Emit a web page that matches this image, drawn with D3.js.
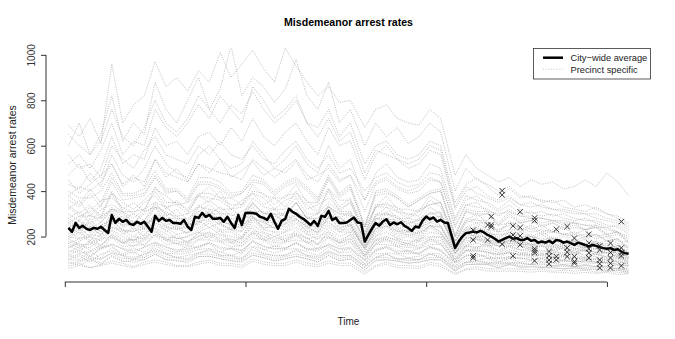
<!DOCTYPE html>
<html><head><meta charset="utf-8">
<script src="https://cdn.jsdelivr.net/npm/d3@7"></script>
<style>body{margin:0;background:#fff} svg{display:block} text{font-family:"Liberation Sans",Arial,Helvetica,sans-serif}</style>
</head><body><svg id="c" width="675" height="339"></svg>
<script>
// ---- data ----
const cityAverage = [238,221,260,238,247,234,229,238,234,243,229,216,295,260,278,265,273,256,251,265,256,265,243,221,291,269,
282,269,273,260,260,256,273,243,229,287,282,304,287,295,278,278,282,265,287,260,238,295,251,304,
305,304,300,287,282,273,300,265,234,269,278,322,309,300,287,278,265,251,269,247,291,287,313,273,282,260,260,
262,273,284,262,259,178,
207,235,259,248,266,276,251,262,254,263,247,238,225,244,240,270,288,276,284,266,273,262,
260,205,150,178,200,215,218,222,218,225,218,207,200,190,178,185,193,200,190,193,185,185,193,181,185,173,
178,173,181,171,185,182,173,178,171,163,173,168,163,156,163,159,153,149,146,149,141,144,134,127,124];

const precinctTimes = [1,4,7,10,13,16,19,22,25,28,31,34,37,40,43,46,49,52,55,58,61,64,67,70,73,76,79,
83,86,89,92,95,98,101,104,108,111,114,117,120,123,126,129,132,135,138,141,144,147,150,153,156];

const precinctHigh = [
[690,640,720,610,960,700,780,820,970,860,900,840,930,880,1010,900,960,1020,940,880,1030,950,880,820,860,790,800,680,760,780,720,700,690,760,720,470,560,500,470,440,460,420,450,430,440,410,420,450,420,480,440,380],
[600,700,560,650,820,620,700,650,880,760,700,800,900,760,850,1040,820,900,860,790,850,980,820,760,880,700,760,600,700,640,680,610,640,700,660,400,500,450,430,400,420,380,370,360,350,360,330,340,320,300,290,260],
[520,560,500,580,700,560,620,600,760,680,640,700,780,720,820,760,700,860,800,720,760,820,700,680,760,640,700,520,600,620,560,540,560,620,600,350,430,460,420,380,410,370,380,350,360,330,320,310,330,300,280,250]
];
const precinctUpper = [
[470,520,440,500,640,520,560,540,680,600,620,560,640,660,600,680,620,720,640,600,660,700,620,560,680,600,620,450,560,600,540,500,520,580,560,320,400,420,380,360,380,340,330,340,320,310,300,300,280,270,260,230],
[430,410,480,420,560,470,440,500,600,520,480,460,560,600,540,500,520,620,560,500,540,600,520,480,600,500,540,360,480,520,460,440,450,520,500,280,380,360,350,320,360,320,300,310,290,300,280,270,270,250,240,210],
[560,500,520,460,600,540,500,580,640,560,540,520,600,560,620,560,540,600,540,520,580,620,540,500,560,480,500,400,460,480,440,420,430,480,470,270,360,380,340,310,340,300,310,290,300,280,270,280,260,240,250,220],
[380,420,400,440,520,420,460,440,540,480,460,440,520,500,480,470,450,540,500,460,500,540,470,440,520,450,470,310,430,450,410,390,400,450,440,240,340,330,320,290,320,290,280,280,270,270,260,250,250,230,220,200],
[650,600,560,620,760,640,600,680,800,700,660,720,820,760,700,780,740,840,760,700,740,800,700,640,720,620,660,480,580,560,540,520,540,600,580,330,420,390,370,350,370,340,350,330,320,320,310,300,300,280,270,240],
[450,390,430,470,520,430,470,420,540,460,500,440,520,480,540,460,490,530,470,500,480,530,450,470,500,440,470,360,440,460,420,400,420,460,440,250,340,350,310,300,310,290,290,280,270,260,260,250,240,240,220,190]
];
const precinctMid = [
[360,330,390,330,440,360,370,380,460,390,400,350,430,430,410,370,390,440,430,380,420,440,400,350,450,370,410,240,380,390,370,330,360,390,400,200,310,300,300,250,300,260,270,250,260,240,250,230,240,210,220,170],
[320,360,290,340,390,350,320,360,410,380,340,350,380,420,370,370,340,430,380,370,370,430,350,350,410,360,360,240,330,380,320,320,310,380,350,200,270,300,260,250,260,260,230,250,220,240,210,230,200,210,180,175],
[300,270,330,280,390,310,310,320,400,330,340,300,380,370,360,320,330,390,370,320,360,380,340,300,400,310,350,200,330,330,310,280,310,340,350,170,270,260,260,220,260,220,240,210,220,210,210,190,210,180,190,145],
[400,370,370,400,480,390,390,410,490,410,410,370,460,460,440,390,400,470,450,400,440,460,420,370,470,390,430,250,400,410,380,340,370,400,410,210,320,310,310,260,310,270,280,260,270,250,260,230,250,210,220,180],
[280,310,260,320,340,310,280,320,350,330,290,300,330,360,320,320,290,370,330,320,320,370,300,300,350,310,310,210,290,330,280,280,270,330,300,180,240,260,230,220,230,230,200,220,190,210,180,200,170,180,160,150],
[340,300,340,290,400,320,350,310,420,350,350,320,390,390,370,340,340,400,390,340,380,390,360,310,410,330,370,210,340,340,330,290,320,340,350,180,280,270,270,220,270,230,250,220,230,210,220,200,210,180,190,150],
[260,290,290,280,320,300,260,310,330,310,280,280,310,340,300,300,270,350,300,300,300,350,280,280,330,300,290,200,270,310,260,270,250,310,280,170,220,250,210,210,210,220,190,210,180,200,170,190,160,170,150,140],
[380,340,410,350,460,380,380,390,470,400,400,360,440,440,420,380,390,450,440,390,430,450,410,360,460,380,420,240,390,400,370,330,360,390,400,200,310,290,300,250,290,260,270,240,260,230,240,230,240,200,210,175],
[330,290,310,360,370,330,300,350,380,320,360,310,380,350,400,320,360,390,340,370,330,400,320,340,370,320,350,220,330,350,310,300,290,360,330,180,260,280,240,230,250,240,220,230,220,210,200,210,190,200,170,160],
[270,240,300,260,330,280,300,270,350,290,320,270,340,300,330,290,310,340,300,320,290,350,280,300,330,280,310,180,290,300,280,260,270,300,300,150,230,240,220,200,220,200,200,190,190,180,180,170,170,160,150,130]
];
const precinctCentral = [
[250,210,280,220,310,240,260,270,330,250,270,230,300,280,290,240,260,330,270,290,270,320,250,260,300,280,260,160,280,270,260,220,250,270,290,140,220,200,210,170,210,170,200,160,190,160,170,150,170,140,150,110],
[210,240,200,250,270,230,220,250,290,240,230,250,260,290,250,230,250,280,260,240,270,280,240,220,290,240,250,150,230,260,220,230,210,250,240,130,190,200,180,170,180,170,160,170,150,160,150,140,150,130,130,110],
[280,250,250,290,320,310,260,300,340,300,290,260,330,320,310,280,280,350,300,300,290,350,280,280,330,300,300,190,300,300,290,250,280,300,310,160,240,230,230,190,230,190,210,180,200,170,190,160,180,150,160,130],
[190,220,170,210,240,220,180,230,250,230,190,200,230,260,220,220,190,270,230,220,220,260,210,210,250,220,220,150,200,240,190,200,180,240,210,130,160,190,160,160,160,160,140,160,130,150,120,140,120,130,110,100],
[230,250,260,220,290,250,270,240,300,280,260,250,270,310,260,280,240,300,290,260,280,290,270,230,310,250,270,170,250,280,240,220,240,260,280,140,210,200,200,180,190,180,170,180,160,170,160,150,160,140,140,120],
[170,190,200,180,230,200,180,210,240,210,190,200,220,240,210,200,190,250,220,200,220,240,210,190,240,200,220,130,200,220,190,180,180,220,210,110,160,170,160,140,160,140,140,140,130,130,130,120,120,110,110,90],
[260,230,240,260,320,260,260,250,330,280,280,250,310,300,300,260,270,310,310,270,310,300,290,240,340,260,300,170,280,280,270,240,260,280,290,150,230,210,220,180,220,180,200,170,190,170,180,150,180,140,160,125],
[200,190,210,200,240,230,200,240,260,240,210,220,240,270,230,230,200,280,240,240,230,270,220,220,260,230,230,160,210,250,200,210,190,250,220,130,170,200,170,170,170,170,150,170,140,160,130,150,130,140,115,105],
[240,270,215,250,275,250,255,235,295,265,235,240,275,300,265,255,235,305,265,260,255,300,245,245,285,255,255,165,235,265,225,225,215,265,245,145,195,210,185,175,185,175,165,175,155,165,145,155,145,145,125,115],
[220,195,245,205,275,225,225,235,285,245,235,215,265,275,255,235,225,285,265,235,255,275,245,215,285,235,255,145,235,245,225,205,215,245,245,125,195,185,185,155,185,165,165,155,155,145,145,135,145,125,135,105],
[230,270,240,210,260,290,230,260,270,300,240,260,250,320,270,250,280,290,240,300,260,310,230,270,280,290,240,150,250,300,230,260,220,290,250,130,200,230,180,190,170,200,160,180,170,150,170,140,160,150,120,120],
[200,230,180,240,260,210,240,200,280,220,250,210,270,240,260,230,220,290,230,260,240,280,220,240,270,220,250,140,220,250,210,220,200,250,220,120,180,190,170,160,170,160,150,160,140,150,130,140,130,130,110,100]
];
const precinctLow = [
[160,135,175,145,195,155,160,165,205,165,170,145,185,185,175,155,160,195,185,155,175,185,175,145,195,155,175,95,165,165,155,135,145,165,165,85,135,135,135,105,135,115,115,105,115,95,105,95,105,85,95,75],
[130,155,115,145,165,145,125,155,175,155,135,135,155,175,145,145,125,185,155,145,145,175,145,135,165,145,145,95,135,155,125,125,125,155,135,85,115,125,105,105,105,105,95,105,85,95,85,95,85,85,75,72],
[100,115,88,122,138,114,97,124,147,124,106,104,127,144,117,114,97,154,127,114,117,144,117,104,137,114,117,72,107,124,97,104,97,124,107,64,87,94,87,84,87,84,77,84,67,74,67,74,67,64,57,52],
[80,88,102,83,112,88,97,98,122,98,92,93,112,113,102,93,92,118,107,93,102,113,102,88,117,93,102,53,92,98,92,83,87,98,97,48,77,78,77,63,77,68,67,63,62,58,62,58,57,53,52,43],
[190,165,165,195,225,185,185,195,235,195,195,175,215,215,205,185,185,225,215,185,205,215,195,165,225,185,205,115,185,195,185,165,175,195,195,98,155,155,155,125,155,125,135,125,125,115,125,105,125,105,105,88],
[120,98,133,107,153,117,133,107,163,127,123,127,143,147,133,117,133,157,143,127,143,147,133,117,153,127,133,78,123,127,123,107,113,127,123,68,103,97,103,87,103,87,93,87,83,77,83,77,83,67,73,58],
[70,82,63,77,93,82,68,87,98,87,73,72,88,97,83,82,73,102,88,82,83,97,83,77,93,82,83,42,73,87,73,72,68,87,78,38,58,67,58,57,58,57,53,57,48,52,48,52,43,47,43,38],
[150,172,138,162,198,172,158,182,208,182,168,162,188,202,178,172,158,212,188,172,178,202,178,162,198,172,178,108,168,182,158,152,148,182,168,88,138,142,128,122,128,122,118,122,108,112,108,102,98,102,88,82],
[110,122,103,102,128,117,108,122,138,122,108,117,128,137,118,117,108,142,123,117,118,137,118,112,133,117,118,68,108,122,103,102,98,122,113,58,88,92,83,82,83,82,78,77,73,77,68,72,68,67,58,57],
[90,73,97,78,117,93,87,98,122,98,97,83,112,113,102,93,87,118,107,93,102,113,102,88,117,93,102,53,97,98,92,83,87,98,97,48,77,78,77,63,77,63,67,63,62,58,62,53,57,48,52,43],
[170,148,182,158,212,178,172,188,222,188,182,168,202,208,192,178,172,218,202,178,192,208,192,168,212,178,192,118,182,188,172,158,162,188,182,98,142,148,142,118,142,128,122,118,122,118,112,108,112,98,102,83],
[140,127,133,152,168,147,138,152,173,152,143,142,158,172,153,147,138,177,158,147,148,172,148,142,168,147,153,97,143,157,138,132,128,157,143,82,113,122,108,102,113,107,98,102,93,97,88,92,88,87,78,72],
[60,72,63,72,83,72,63,77,88,77,68,67,78,87,73,72,63,92,78,72,73,87,73,67,83,72,73,33,68,77,63,62,58,77,68,33,53,57,48,47,48,47,43,47,43,42,38,42,38,42,33,37],
[100,93,112,98,127,103,102,108,132,108,107,98,122,123,112,103,102,128,117,103,112,123,112,98,127,103,112,63,107,108,102,93,97,108,107,53,87,83,82,73,82,73,77,68,72,68,67,63,67,58,62,48],
[150,180,200,160,210,170,200,190,230,180,210,170,220,190,230,170,200,240,190,220,180,230,190,200,220,170,210,120,190,200,180,170,190,200,200,100,160,150,170,130,160,140,150,130,140,120,140,110,130,110,120,90],
[120,140,110,150,160,120,150,130,170,140,130,160,150,170,130,150,140,180,140,160,150,170,140,150,160,130,150,80,140,150,130,140,120,150,140,70,120,110,120,90,110,100,110,90,100,90,95,85,90,80,85,65],
[180,160,150,190,200,170,190,160,210,190,170,180,200,220,180,190,170,220,180,200,180,210,170,190,200,170,190,110,170,190,160,170,150,190,170,90,140,140,130,120,130,120,120,115,110,110,105,100,100,95,90,80]
];

const crossTime = [113,113,113,113,117,117,118,118,118,121,121,121,124,124,124,124,126,126,126,126,
130,130,130,130,130,130,134,134,134,134,136,136,136,139,139,139,139,141,141,141,141,
145,145,145,145,145,148,148,148,148,148,151,151,151,151,151,154,154,154,154,154];
const crossRate = [228,185,115,106,251,185,288,251,242,402,383,166,247,207,190,115,309,240,203,163,
282,270,146,137,128,93,134,115,97,80,232,112,97,244,150,131,112,193,112,90,83,
210,171,146,128,106,159,141,97,80,62,171,130,106,82,62,266,150,128,115,71];

const yTicks = [200,400,600,800,1000];
const xTicks = [0,50,100,150];
const dataRangeX = [1,156];
const dataRangeY = [38,992];
const legendLabels = ["City\u2212wide average","Precinct specific"];

// ---- chart ----
const svg = d3.select("#c");
const plot = {left:46,right:651,top:48,bottom:282};
const ext = r => [r[0]-0.04*(r[1]-r[0]), r[1]+0.04*(r[1]-r[0])];
const x = d3.scaleLinear().domain(ext(dataRangeX)).range([plot.left,plot.right]);
const y = d3.scaleLinear().domain(ext(dataRangeY)).range([plot.bottom,plot.top]);

svg.append("defs").append("clipPath").attr("id","clip")
  .append("rect").attr("x",plot.left).attr("y",plot.top).attr("width",plot.right-plot.left).attr("height",plot.bottom-plot.top);

const g = svg.append("g").attr("clip-path","url(#clip)");
const line = d3.line().x((d,i)=>x(precinctTimes[i])).y(d=>y(d));
const allPrecincts = [...precinctHigh,...precinctUpper,...precinctMid,...precinctCentral,...precinctLow];
g.selectAll("path.pre").data(allPrecincts).join("path").attr("class","pre")
  .attr("d",line).attr("fill","none").attr("stroke","#999").attr("stroke-width",0.8)
  .attr("stroke-dasharray","1,1.3").attr("stroke-opacity",0.8);

const cityLine = d3.line().x((d,i)=>x(i+1)).y(d=>y(d));
g.append("path").datum(cityAverage).attr("d",cityLine).attr("fill","none")
  .attr("stroke","#000").attr("stroke-width",2.5).attr("stroke-linejoin","round");

const cs = 2.7;
const crosses = g.selectAll("g.cr").data(crossTime.map((t,i)=>[t,crossRate[i]])).join("g")
  .attr("transform",d=>`translate(${x(d[0])},${y(d[1])})`);
crosses.append("path").attr("d",`M${-cs},${-cs}L${cs},${cs}M${-cs},${cs}L${cs},${-cs}`)
  .attr("stroke","#222").attr("stroke-width",0.9);

// axes
const yAxis = d3.axisLeft(y).tickValues(yTicks).tickFormat(d3.format("d")).tickSize(5).tickSizeOuter(0);
const ya = svg.append("g").attr("transform",`translate(${plot.left},0)`).call(yAxis);
ya.select(".domain").attr("d",`M0,${y(yTicks[0])}V${y(yTicks[yTicks.length-1])}`).attr("stroke","#333");
ya.selectAll(".tick line").attr("stroke","#333");
ya.selectAll(".tick text").attr("x",null).attr("dy",null).attr("y",null)
  .attr("text-anchor","middle").attr("font-size","10px").attr("fill","#333")
  .attr("font-family","'Liberation Sans',Arial,sans-serif")
  .attr("transform","translate(-11,0) rotate(-90)");

const xAxis = d3.axisBottom(x).tickValues(xTicks).tickSize(5).tickSizeOuter(0).tickFormat("");
const xa = svg.append("g").attr("transform",`translate(0,${plot.bottom})`).call(xAxis);
xa.select(".domain").attr("d",`M${x(xTicks[0])},0H${x(xTicks[xTicks.length-1])}`).attr("stroke","#333");
xa.selectAll(".tick line").attr("stroke","#333");

// labels
svg.append("text").attr("x",(plot.left+plot.right)/2).attr("y",26).attr("text-anchor","middle")
  .attr("font-weight","bold").attr("font-size","10.6px").text("Misdemeanor arrest rates");
svg.append("text").attr("x",(plot.left+plot.right)/2).attr("y",325).attr("text-anchor","middle")
  .attr("font-size","10px").attr("fill","#222").text("Time");
svg.append("text").attr("transform",`translate(15.5,${(plot.top+plot.bottom)/2}) rotate(-90)`)
  .attr("text-anchor","middle").attr("font-size","10.5px").attr("fill","#222").text("Misdemeanor arrest rates");

// legend
const lg = svg.append("g");
lg.append("rect").attr("x",533.5).attr("y",48.5).attr("width",117).attr("height",30.5)
  .attr("fill","#fff").attr("stroke","#333").attr("stroke-width",0.8);
lg.append("line").attr("x1",543).attr("x2",563).attr("y1",57.7).attr("y2",57.7).attr("stroke","#000").attr("stroke-width",2.5);
lg.append("line").attr("x1",543).attr("x2",563).attr("y1",69.3).attr("y2",69.3).attr("stroke","#bbb").attr("stroke-width",0.8).attr("stroke-dasharray","1,1.6");
lg.selectAll("text.lt").data(legendLabels).join("text").attr("class","lt")
  .attr("x",570.5).attr("y",(d,i)=>61+i*11.6).attr("font-size","9.3px").attr("fill","#222").text(d=>d);
</script></body></html>
